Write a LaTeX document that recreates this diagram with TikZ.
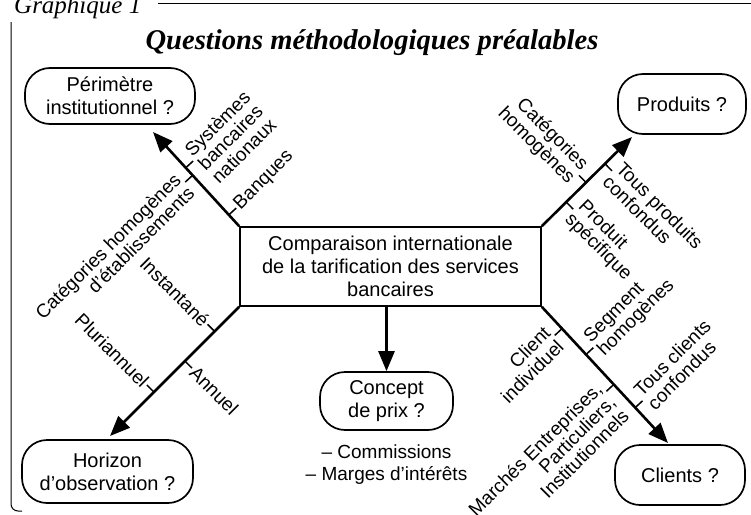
\documentclass[tikz,border=0pt]{standalone}
\usepackage{fontspec}
\setmainfont{Liberation Sans}
\newfontfamily\serifont{Liberation Serif}
\usetikzlibrary{arrows.meta,calc}

\begin{document}
\begin{tikzpicture}[x=1pt,y=-1pt,
		font=\fontsize{20}{23}\selectfont,
		box/.style={draw, line width=1.7pt, rounded corners=25pt, align=center, inner sep=0pt},
		axe/.style={line width=2.6pt, -{Triangle[length=20pt, width=16pt]}},
		tick/.style={line width=1.5pt},
		lbl/.style={inner sep=1pt, font=\fontsize{19}{19}\selectfont}]
			\useasboundingbox (0,0) rectangle (751,514);
			\clip (0,0) rectangle (751,514);

			% cadre et titres
			\draw[line width=1pt] (158,3) -- (751,3);
			\draw[line width=1pt, rounded corners=7pt] (11,22) -- (11,511) -- (22,511);
			\node[anchor=base west, inner sep=0pt, font=\serifont\itshape\fontsize{25}{28}\selectfont] (graph) at (14,13) {Graphique 1};
			\node[font=\serifont\bfseries\itshape\fontsize{28.6}{32}\selectfont] (titre) at (372,43) {Questions méthodologiques préalables};

			% boites
			\node[draw, line width=1.7pt, minimum width=301pt, minimum height=79pt, align=center, inner sep=0pt] (comp) at (390.5,266.5) {Comparaison internationale\\de la tarification des services\\bancaires};
			\node[box, minimum width=170pt, minimum height=56pt] (perim)   at (110,96)    {Périmètre\\institutionnel ?};
			\node[box, minimum width=128pt, minimum height=60pt] (produit) at (682,104)   {Produits ?};
			\node[box, minimum width=171pt, minimum height=63pt] (horizon) at (107.5,471.5) {Horizon\\d'observation ?};
			\node[box, minimum width=130pt, minimum height=60pt] (client)  at (680,475)   {Clients ?};
			\node[box, minimum width=133pt, minimum height=58pt] (concept) at (386.5,401) {Concept\\de prix ?};
			\node[align=center, font=\fontsize{19}{22}\selectfont] (prix) at (386.5,465) {– Commissions\\– Marges d'intérêts};

			% bouts des fleches
			\coordinate (tNO) at (153,132);
			\coordinate (tNE) at (632,137);
			\coordinate (tSO) at (110,436);
			\coordinate (tSE) at (668,443);

			\draw[axe] (comp.north west) -- (tNO);
			\draw[axe] (comp.north east) -- (tNE);
			\draw[axe] (comp.south west) -- (tSO);
			\draw[axe] (comp.south east) -- (tSE);
			\draw[axe] (comp.south -| concept.north) -- (concept.north);

			% graduations en haut a gauche
			\coordinate (no1) at ($(comp.north west)!0.12!(tNO)$);
			\coordinate (no2) at ($(comp.north west)!0.62!(tNO)$);
			\coordinate (no3) at ($(comp.north west)!0.54!(tNO)$);
			\draw[tick] (no1) -- ($(no1)!10pt!-90:(tNO)$) node[lbl, rotate=45, anchor=west] {Banques};
			\draw[tick] (no2) -- ($(no2)!10pt!-90:(tNO)$) node[lbl, rotate=45, anchor=west, yshift=-9.5pt, align=left] {Systèmes\\bancaires\\nationaux};
			\draw[tick] (no3) -- ($(no3)!10pt!90:(tNO)$) node[lbl, rotate=45, anchor=east, align=right] {Catégories homogènes\\d'établissements};

			% graduations en bas a gauche
			\coordinate (so1) at ($(comp.south west)!0.19!(tSO)$);
			\coordinate (so2) at ($(comp.south west)!0.42!(tSO)$);
			\coordinate (so3) at ($(comp.south west)!0.66!(tSO)$);
			\draw[tick] (so1) -- ($(so1)!10pt!-90:(tSO)$) node[lbl, rotate=-45, anchor=east] {Instantané};
			\draw[tick] (so2) -- ($(so2)!10pt!90:(tSO)$) node[lbl, rotate=-45, anchor=west] {Annuel};
			\draw[tick] (so3) -- ($(so3)!10pt!-90:(tSO)$) node[lbl, rotate=-45, anchor=east] {Pluriannuel};

			% graduations en haut a droite
			\coordinate (ne1) at ($(comp.north east)!0.27!(tNE)$);
			\coordinate (ne2) at ($(comp.north east)!0.49!(tNE)$);
			\coordinate (ne3) at ($(comp.north east)!0.70!(tNE)$);
			\draw[tick] (ne1) -- ($(ne1)!10pt!-90:(tNE)$) node[lbl, rotate=-45, anchor=west, align=left] {Produit\\spécifique};
			\draw[tick] (ne2) -- ($(ne2)!10pt!90:(tNE)$) node[lbl, rotate=-45, anchor=east, align=right] {Catégories\\homogènes};
			\draw[tick] (ne3) -- ($(ne3)!10pt!-90:(tNE)$) node[lbl, rotate=-45, anchor=west, align=left] {Tous produits\\confondus};

			% graduations en bas a droite
			\coordinate (se1) at ($(comp.south east)!0.16!(tSE)$);
			\coordinate (se2) at ($(comp.south east)!0.35!(tSE)$);
			\coordinate (se3) at ($(comp.south east)!0.57!(tSE)$);
			\coordinate (se4) at ($(comp.south east)!0.74!(tSE)$);
			\draw[tick] (se1) -- ($(se1)!10pt!-90:(tSE)$) node[lbl, rotate=45, anchor=east, align=right] {Client\\individuel};
			\draw[tick] (se2) -- ($(se2)!10pt!90:(tSE)$) node[lbl, rotate=45, anchor=west, align=left] {Segment\\homogènes};
			\draw[tick] (se3) -- ($(se3)!10pt!-90:(tSE)$) node[lbl, rotate=45, anchor=east, yshift=-9.5pt, align=right] {Marchés Entreprises,\\Particuliers,\\Institutionnels};
			\draw[tick] (se4) -- ($(se4)!10pt!90:(tSE)$) node[lbl, rotate=45, anchor=west, align=left] {Tous clients\\confondus};

		\end{tikzpicture}
\end{document}
